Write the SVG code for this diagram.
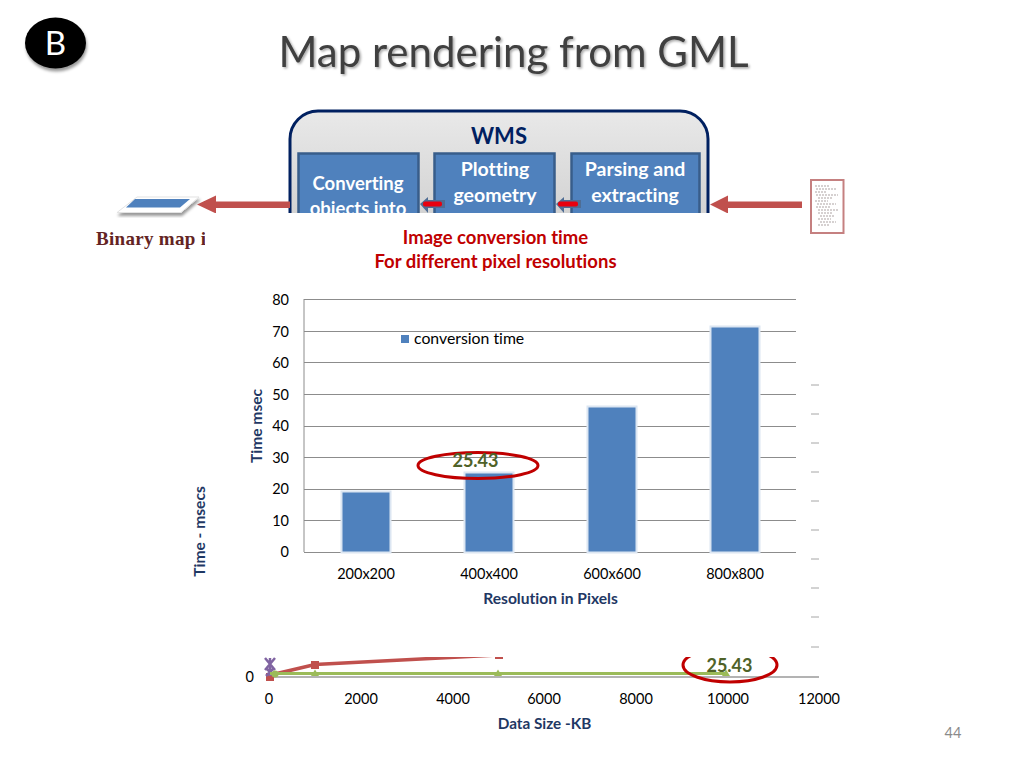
<svg xmlns="http://www.w3.org/2000/svg" width="1024" height="768" viewBox="0 0 1024 768">
<style>
text{font-family:Lato,"Open Sans","Liberation Sans",sans-serif;font-variant-ligatures:none}
.tick{font-size:14.5px;fill:#000;text-anchor:middle}
.ytick{font-size:14.5px;fill:#000;text-anchor:end}
.axis{font-size:15.6px;font-weight:700;fill:#1f3864;text-anchor:middle}
.box{fill:#4f81bd;stroke:#385d8a;stroke-width:2.5}
.boxt{font-size:19.5px;font-weight:700;fill:#fff;text-anchor:middle}
.grid{stroke:#8c8c8c;stroke-width:1}
.bar{fill:#4f81bd;stroke:#dce6f2;stroke-width:2}
.val{font-size:18px;font-weight:700;fill:#4f6228;text-anchor:middle}
.ell{fill:none;stroke:#c00000;stroke-width:3}
.big{fill:#c0504d;stroke:none}
.red{fill:#e8000e}
.dash{stroke:#a6a6a6;stroke-width:1}
.ctitle{font-size:18.5px;font-weight:700;fill:#c00000;text-anchor:middle}
</style>
<defs>
<linearGradient id="panel" x1="0" y1="0" x2="0" y2="1"><stop offset="0" stop-color="#e9e9e9"/><stop offset="1" stop-color="#c4c4c4"/></linearGradient>
<filter id="sh" x="-20%" y="-20%" width="140%" height="150%"><feDropShadow dx="1" dy="3" stdDeviation="1.5" flood-color="#000" flood-opacity="0.4"/></filter>
<filter id="tsh" x="-5%" y="-5%" width="110%" height="120%"><feDropShadow dx="1.5" dy="1.5" stdDeviation="1.2" flood-color="#000" flood-opacity="0.35"/></filter>
<clipPath id="topclip"><rect x="0" y="0" width="1024" height="213"/></clipPath>
<clipPath id="textclip"><rect x="0" y="220" width="205" height="40"/></clipPath>
<clipPath id="c25"><rect x="660" y="657" width="140" height="40"/></clipPath>
<clipPath id="lineclip"><rect x="230" y="657" width="600" height="40"/></clipPath>
</defs>
<rect width="1024" height="768" fill="#fff"/>

<g id="badge-b">
<ellipse cx="55.500" cy="43" rx="30.500" ry="25.500" fill="#000" filter="url(#sh)"/>
<text x="55.500" y="55" font-size="33" fill="#fff" text-anchor="middle">B</text>
</g>
<text id="title" x="513.500" y="67" font-size="42" fill="#404040" text-anchor="middle" filter="url(#tsh)">Map rendering from GML</text>

<g clip-path="url(#topclip)">
<g id="wms">
<rect x="290" y="111" width="418" height="170" rx="28" fill="url(#panel)" stroke="#002060" stroke-width="3"/>
<text x="499" y="144" font-size="22" font-weight="700" fill="#002060" text-anchor="middle">WMS</text>
</g>
<g id="box-converting">
<rect class="box" x="298.500" y="153.500" width="120" height="90"/>
<text class="boxt" style="font-size:18.500px" x="358" y="190">Converting</text>
<text class="boxt" style="font-size:18.500px" x="358" y="215">objects into</text>
</g>
<g id="box-plotting">
<rect class="box" x="434.500" y="153.500" width="120" height="90"/>
<text class="boxt" x="495" y="176">Plotting</text>
<text class="boxt" x="495" y="202">geometry</text>
</g>
<g id="box-parsing">
<rect class="box" x="571.500" y="153.500" width="128" height="90"/>
<text class="boxt" x="635" y="176">Parsing and</text>
<text class="boxt" x="635" y="202">extracting</text>
</g>
<g id="connectors">
<path class="big" d="M197 204.500L216 195.500V201.500H290V208H216V213.500Z"/>
<path class="big" d="M710 204.500L728 195.500V201.500H802V208H728V213.500Z"/>
<path d="M420 204L428 197V200H445V208H428V213Z" fill="#4f6d94"/>
<path d="M556 204L564 197V200H581V208H564V213Z" fill="#4f6d94"/>
<rect class="red" x="423" y="201.500" width="19" height="5" rx="2"/>
<rect class="red" x="558" y="201.500" width="20" height="5" rx="2"/>
</g>
</g>

<g id="map-icon">
<path d="M117 212.500L137 197H199L181 212.500Z" fill="#fff" stroke="#e3e3e3" stroke-width="1" filter="url(#sh)"/>
<path d="M126 207.500L135 199H190L180 207.500Z" fill="#4f81bd"/>
</g>
<text id="binary" clip-path="url(#textclip)" x="96" y="245" font-size="19" font-weight="700" fill="#632423" style="font-family:'Liberation Serif',serif;letter-spacing:.3px">Binary map i</text>

<g id="gml-doc">
<rect x="811" y="180" width="32.500" height="53" fill="#fff" stroke="#c58080" stroke-width="2"/>
<path d="M815 186H830M816 189H836M815 192H826M816 195H838M818 198H832M815 201H828M817 204H836M816 207H830M818 210H838M818 213H832M820 216H834M818 219H831M820 222H836M818 225H830" stroke="#c9c2c2" stroke-width="1.500" stroke-dasharray="2 1"/>
</g>

<g id="chart-title">
<text class="ctitle" x="495.500" y="244">Image conversion time</text>
<text class="ctitle" x="495.500" y="268">For different pixel resolutions</text>
</g>

<g id="bar-chart">
<path class="grid" d="M304 299.500H796M304 331.500H796M304 362.500H796M304 394.500H796M304 426.500H796M304 457.500H796M304 489.500H796M304 520.500H796M304 552.500H796M304 299V552"/>
<rect class="bar" x="341.500" y="491.500" width="49" height="61"/>
<rect class="bar" x="464.500" y="472.500" width="49" height="80"/>
<rect class="bar" x="587.500" y="406.500" width="49" height="146"/>
<rect class="bar" x="710.500" y="326.500" width="49" height="226"/>
<text class="ytick" x="289" y="305">80</text>
<text class="ytick" x="289" y="337">70</text>
<text class="ytick" x="289" y="368">60</text>
<text class="ytick" x="289" y="400">50</text>
<text class="ytick" x="289" y="431">40</text>
<text class="ytick" x="289" y="463">30</text>
<text class="ytick" x="289" y="494">20</text>
<text class="ytick" x="289" y="526">10</text>
<text class="ytick" x="289" y="557">0</text>
<text class="tick" x="366" y="579">200x200</text>
<text class="tick" x="489" y="579">400x400</text>
<text class="tick" x="612" y="579">600x600</text>
<text class="tick" x="735" y="579">800x800</text>
<text class="axis" x="550.500" y="604">Resolution in Pixels</text>
<text class="axis" transform="rotate(-90 262 426)" x="262" y="426">Time msec</text>
<rect x="401" y="335" width="8" height="8" fill="#4f81bd"/>
<text x="414" y="343.500" font-size="15.800" fill="#000">conversion time</text>
</g>
<ellipse id="ell-1" class="ell" cx="478" cy="465.500" rx="60" ry="13"/>
<text id="val-1" class="val" x="475.500" y="467">25.43</text>

<g id="line-chart">
<text class="axis" transform="rotate(-90 205 531.500)" x="205" y="531.500">Time - msecs</text>
<path class="dash" d="M811 385H819M811 414H819M811 443H819M811 472H819M811 501H819M811 530H819M811 559H819M811 588H819M811 617H819M811 647H819"/>
<path d="M269 677H819" stroke="#b3b3b3" stroke-width="2"/>
<g clip-path="url(#lineclip)">
<path d="M270 677L275 674L315 664.500L498 655" fill="none" stroke="#c0504d" stroke-width="3.500"/>
<rect x="266" y="673" width="8" height="8" fill="#c0504d"/>
<rect x="311" y="661" width="8" height="8" fill="#c0504d"/>
<rect x="495" y="656" width="8" height="3" fill="#c0504d"/>
<path d="M265 658L275 670M275 658L265 670M270 658V676M266 668L274 676M274 668L266 676" stroke="#8064a2" stroke-width="2.500"/>
<path d="M270 673.500L726 673.500" stroke="#9bbb59" stroke-width="3"/>
<path d="M315 669.500L319 676H311ZM498 669.500L502 676H494ZM726 669.500L730 676H722Z" fill="#9bbb59"/>
<circle cx="275" cy="674" r="3.500" fill="#9bbb59"/>
</g>
<text class="ytick" x="254" y="682">0</text>
<text class="tick" x="269" y="704">0</text>
<text class="tick" x="361" y="704">2000</text>
<text class="tick" x="453" y="704">4000</text>
<text class="tick" x="544" y="704">6000</text>
<text class="tick" x="636" y="704">8000</text>
<text class="tick" x="728" y="704">10000</text>
<text class="tick" x="819" y="704">12000</text>
<text class="axis" style="font-size:15.300px" x="544.500" y="729">Data Size -KB</text>
</g>
<ellipse id="ell-2" class="ell" clip-path="url(#c25)" cx="730" cy="665" rx="47" ry="17"/>
<text id="val-2" class="val" x="729.500" y="672">25.43</text>
<text id="page" x="953" y="738" font-size="14.500" fill="#8a8a8a" text-anchor="middle">44</text>
</svg>
